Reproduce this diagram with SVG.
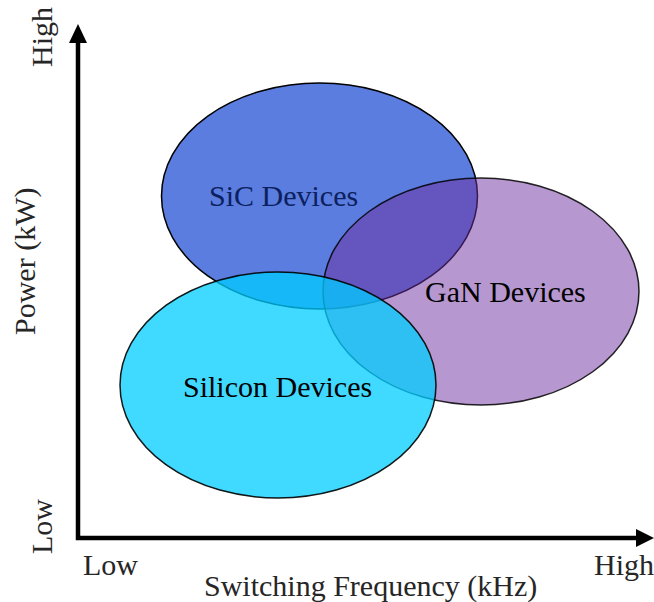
<svg xmlns="http://www.w3.org/2000/svg" width="654" height="602" viewBox="0 0 654 602">
  <style>
    .lbl { font-family: "Liberation Serif", "Times New Roman", serif; font-size: 30px; }
    .axis-text { fill: #262626; }
    .blob { stroke: #000; stroke-width: 1.5; }
    .axis { stroke: #000; stroke-width: 4.5; fill: none; }
  </style>
  <rect width="654" height="602" fill="#fff"/>

  <!-- device regions -->
  <g id="sic">
    <ellipse class="blob" cx="319.5" cy="196" rx="158" ry="113" fill="#5a7ddf"/>
    <text class="lbl" x="209" y="206" fill="#0c1f5e">SiC Devices</text>
  </g>
  <g id="gan">
    <ellipse class="blob" cx="481" cy="291.5" rx="158" ry="113.5" fill="#7030a0" fill-opacity="0.5" stroke-opacity="0.85"/>
    <text class="lbl" x="425" y="302" fill="#000">GaN Devices</text>
  </g>
  <g id="silicon">
    <ellipse class="blob" cx="278" cy="385" rx="158" ry="113" fill="#00ccff" fill-opacity="0.75" stroke-opacity="0.9"/>
    <text class="lbl" x="183" y="397" fill="#000">Silicon Devices</text>
  </g>

  <!-- axes -->
  <g id="axes">
    <polyline class="axis" points="78,42 78,538 637,538"/>
    <polygon points="78,24 69,43 87,43" fill="#000"/>
    <polygon points="654,538 636,529 636,547" fill="#000"/>
  </g>

  <!-- axis labels -->
  <g id="labels" class="lbl axis-text">
    <text x="83" y="575">Low</text>
    <text x="594" y="575">High</text>
    <text x="204" y="596">Switching Frequency (kHz)</text>
    <text transform="translate(52,554) rotate(-90)">Low</text>
    <text transform="translate(52,67) rotate(-90)">High</text>
    <text transform="translate(35,335) rotate(-90)">Power (kW)</text>
  </g>
</svg>
